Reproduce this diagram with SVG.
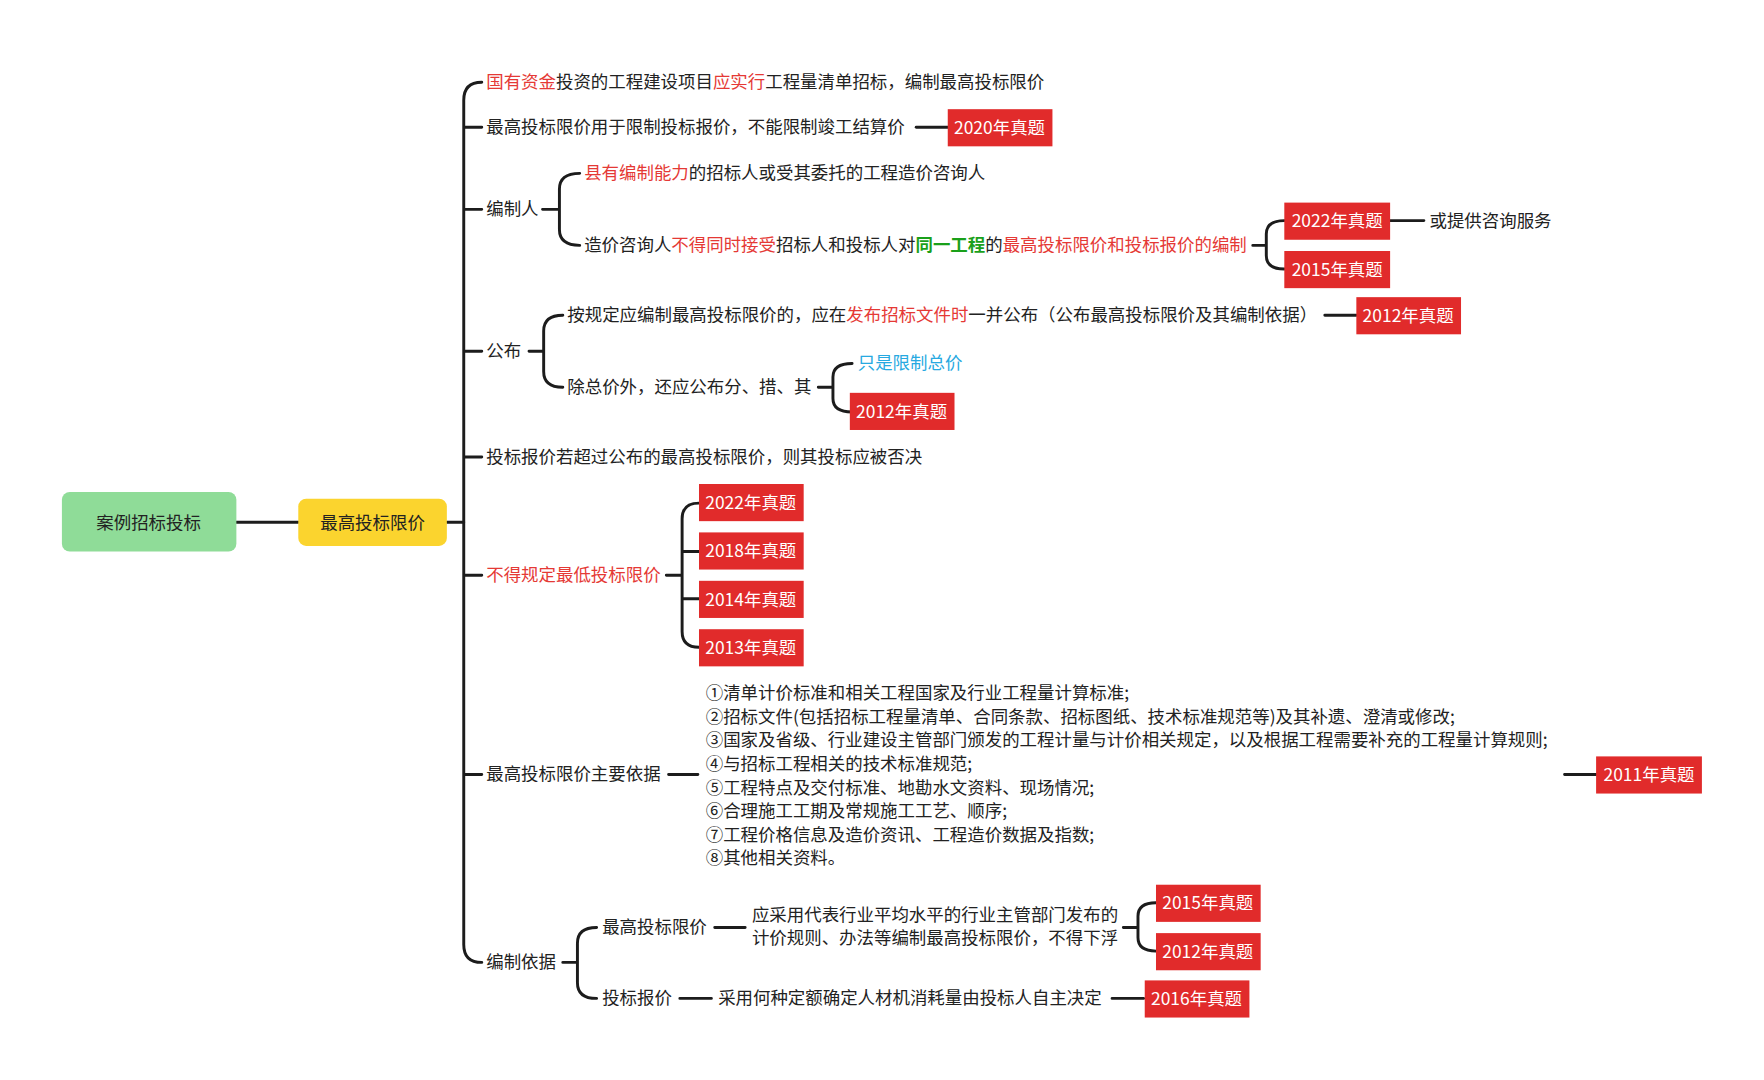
<svg xmlns="http://www.w3.org/2000/svg" width="1764" height="1080" viewBox="0 0 1764 1080">
<style>
text{font-family:"Noto Sans CJK SC","Noto Sans",sans-serif;font-size:15.5px;fill:#222}
.r{fill:#e53935}.g{fill:#1aa01a;font-weight:bold}.b{fill:#27a9e1}
.bd rect{fill:#e12b2b}.bd text{fill:#fff;text-anchor:middle;font-size:15.5px}
.c{fill:none;stroke:#1c1c1c;stroke-width:2.6;stroke-linecap:round}
</style>
<rect width="1764" height="1080" fill="#fff"/>
<g transform="scale(1.1256)">
<g id="connectors" class="c">
<path d="M210,464H265M397,464H412"/>
<path d="M428,73Q412,73 412,89V839Q412,855 428,855M412,113H428M412,186H428M412,312H428M412,406H428M412,511H428M412,688H428"/>
<path d="M814,113H842"/>
<path d="M482,186H497M515,154Q497,154 497,168V204Q497,218 515,218"/>
<path d="M1113,218H1125M1141,196Q1125,196 1125,208V227Q1125,239 1141,239M1235,196H1265"/>
<path d="M470,312H483M500,280Q483,280 483,294V330Q483,344 500,344M1177,280H1205"/>
<path d="M727,344H740M757,323Q740,323 740,335V354Q740,366 757,366"/>
<path d="M592,511H606M621,447Q606,447 606,461V561Q606,575 621,575M606,490H621M606,532H621"/>
<path d="M594,688H620M1390,688H1418"/>
<path d="M500,855H513M530,824Q513,824 513,838V873Q513,887 530,887M635,824H662M998,824H1011M1027,802Q1011,802 1011,814V833Q1011,845 1027,845"/>
<path d="M604,887H632M988,887H1016"/>
</g>
<g id="root"><rect x="55" y="437" width="155" height="53" rx="7" fill="#8fdc98"/><text x="132" y="470" text-anchor="middle">案例招标投标</text></g>
<g id="main"><rect x="265" y="443" width="132" height="42" rx="7" fill="#fbd42e"/><text x="331" y="470" text-anchor="middle">最高投标限价</text></g>
<g id="n1"><text x="432" y="78"><tspan class="r">国有资金</tspan>投资的工程建设项目<tspan class="r">应实行</tspan>工程量清单招标，编制最高投标限价</text></g>
<g id="n2"><text x="432" y="118">最高投标限价用于限制投标报价，不能限制竣工结算价</text></g>
<g id="b2020" class="bd"><rect x="842" y="97" width="93" height="33"/><text x="888" y="119">2020年真题</text></g>
<g id="n3"><text x="432" y="191">编制人</text></g>
<g id="n3a"><text x="519" y="159"><tspan class="r">县有编制能力</tspan>的招标人或受其委托的工程造价咨询人</text></g>
<g id="n3b"><text x="519" y="223">造价咨询人<tspan class="r">不得同时接受</tspan>招标人和投标人对<tspan class="g">同一工程</tspan>的<tspan class="r">最高投标限价和投标报价的编制</tspan></text></g>
<g id="b2022a" class="bd"><rect x="1141" y="180" width="94" height="33"/><text x="1188" y="202">2022年真题</text></g>
<g id="b2015a" class="bd"><rect x="1141" y="223" width="94" height="33"/><text x="1188" y="245">2015年真题</text></g>
<g id="n3c"><text x="1270" y="202">或提供咨询服务</text></g>
<g id="n4"><text x="432" y="317">公布</text></g>
<g id="n4a"><text x="504" y="285">按规定应编制最高投标限价的，应在<tspan class="r">发布招标文件时</tspan>一并公布（公布最高投标限价及其编制依据）</text></g>
<g id="b2012a" class="bd"><rect x="1205" y="264" width="93" height="33"/><text x="1251" y="286">2012年真题</text></g>
<g id="n4b"><text x="504" y="349">除总价外，还应公布分、措、其</text></g>
<g id="n4c"><text x="762" y="328" class="b">只是限制总价</text></g>
<g id="b2012b" class="bd"><rect x="755" y="349" width="93" height="33"/><text x="801" y="371">2012年真题</text></g>
<g id="n5"><text x="432" y="411">投标报价若超过公布的最高投标限价，则其投标应被否决</text></g>
<g id="n6"><text x="432" y="516" class="r">不得规定最低投标限价</text></g>
<g id="b6" class="bd">
<rect x="621" y="430" width="93" height="33"/><text x="667" y="452">2022年真题</text>
<rect x="621" y="473" width="93" height="33"/><text x="667" y="495">2018年真题</text>
<rect x="621" y="516" width="93" height="33"/><text x="667" y="538">2014年真题</text>
<rect x="621" y="559" width="93" height="33"/><text x="667" y="581">2013年真题</text>
</g>
<g id="n7"><text x="432" y="693">最高投标限价主要依据</text></g>
<g id="n7t"><text x="627" y="621">①清单计价标准和相关工程国家及行业工程量计算标准;</text>
<text x="627" y="642">②招标文件(包括招标工程量清单、合同条款、招标图纸、技术标准规范等)及其补遗、澄清或修改;</text>
<text x="627" y="663">③国家及省级、行业建设主管部门颁发的工程计量与计价相关规定，以及根据工程需要补充的工程量计算规则;</text>
<text x="627" y="684">④与招标工程相关的技术标准规范;</text>
<text x="627" y="705">⑤工程特点及交付标准、地勘水文资料、现场情况;</text>
<text x="627" y="726">⑥合理施工工期及常规施工工艺、顺序;</text>
<text x="627" y="747">⑦工程价格信息及造价资讯、工程造价数据及指数;</text>
<text x="627" y="768">⑧其他相关资料。</text></g>
<g id="b2011" class="bd"><rect x="1418" y="672" width="94" height="33"/><text x="1465" y="694">2011年真题</text></g>
<g id="n8"><text x="432" y="860">编制依据</text></g>
<g id="n8a"><text x="535" y="829">最高投标限价</text></g>
<g id="n8at"><text x="668" y="818">应采用代表行业平均水平的行业主管部门发布的</text><text x="668" y="839">计价规则、办法等编制最高投标限价，不得下浮</text></g>
<g id="b8" class="bd"><rect x="1027" y="786" width="93" height="33"/><text x="1073" y="808">2015年真题</text>
<rect x="1027" y="829" width="93" height="33"/><text x="1073" y="851">2012年真题</text></g>
<g id="n8b"><text x="535" y="892">投标报价</text></g>
<g id="n8bt"><text x="638" y="892">采用何种定额确定人材机消耗量由投标人自主决定</text></g>
<g id="b2016" class="bd"><rect x="1017" y="871" width="93" height="33"/><text x="1063" y="893">2016年真题</text></g>
</g>
</svg>
